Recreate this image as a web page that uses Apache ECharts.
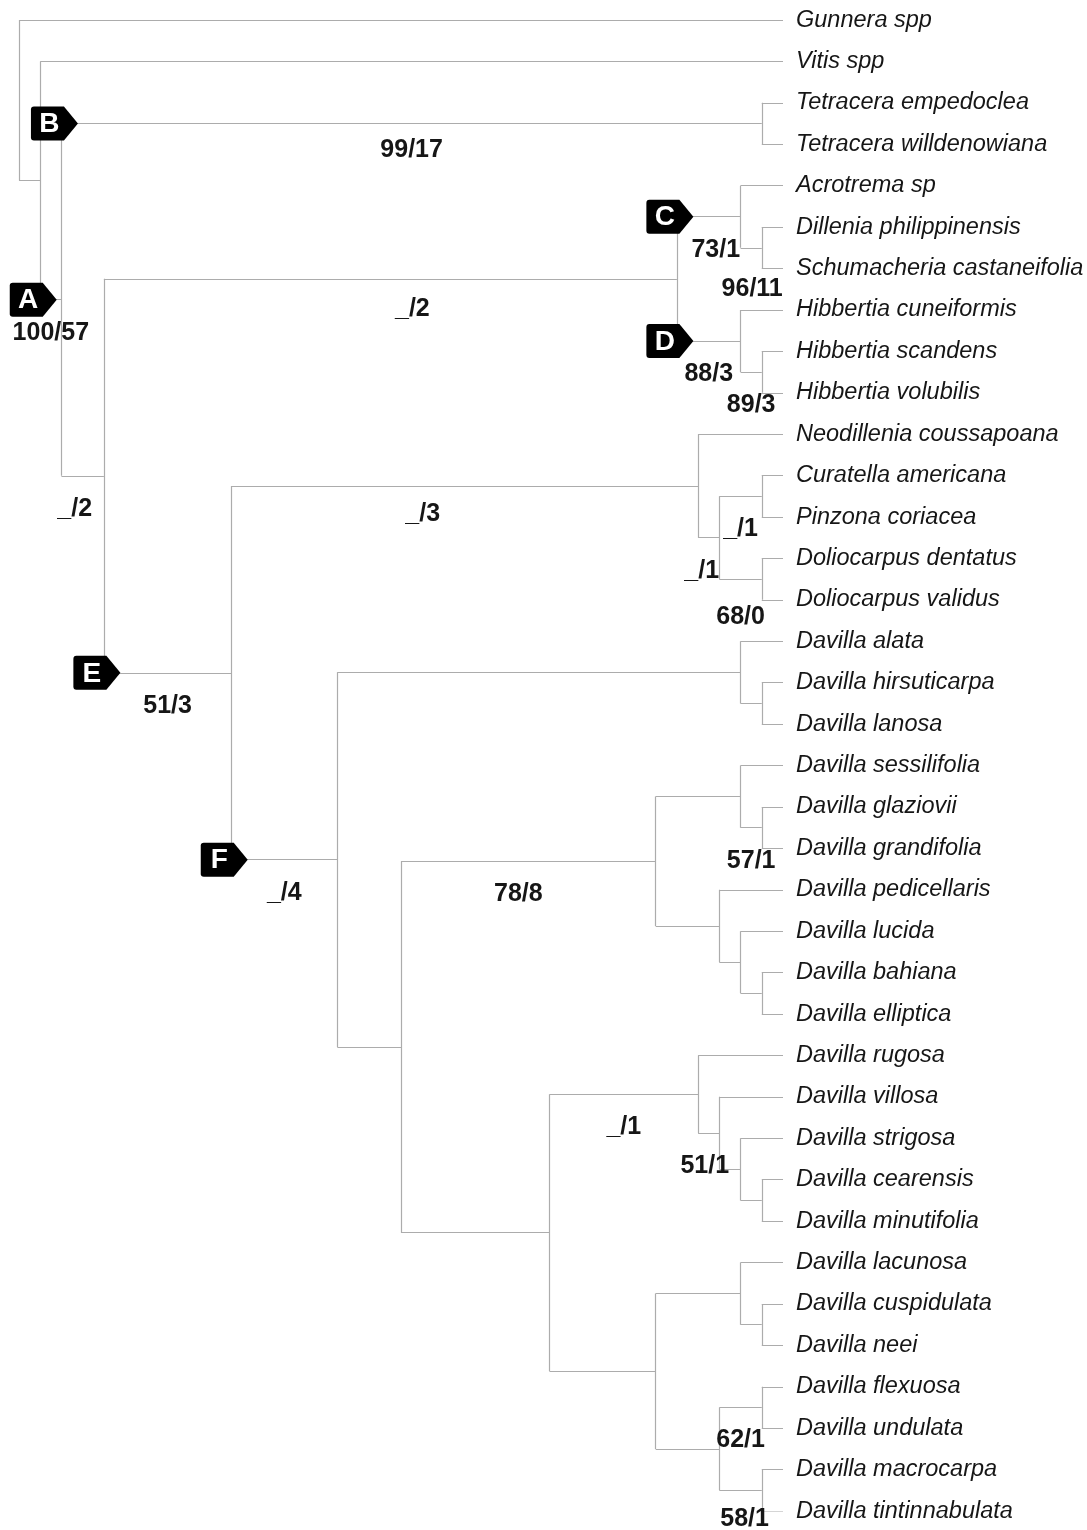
<!DOCTYPE html>
<html>
<head>
<meta charset="utf-8">
<script src="https://cdn.jsdelivr.net/npm/echarts@6/dist/echarts.min.js"></script>
<style>
  html, body { margin: 0; padding: 0; background: #ffffff; }
  #chart { width: 1087px; height: 1530px; }
</style>
</head>
<body>
<div id="chart"></div>
<script>
// Terminal taxa, top to bottom
const leafNames = [
  'Gunnera spp', 'Vitis spp', 'Tetracera empedoclea', 'Tetracera willdenowiana',
  'Acrotrema sp', 'Dillenia philippinensis', 'Schumacheria castaneifolia',
  'Hibbertia cuneiformis', 'Hibbertia scandens', 'Hibbertia volubilis',
  'Neodillenia coussapoana', 'Curatella americana', 'Pinzona coriacea',
  'Doliocarpus dentatus', 'Doliocarpus validus',
  'Davilla alata', 'Davilla hirsuticarpa', 'Davilla lanosa',
  'Davilla sessilifolia', 'Davilla glaziovii', 'Davilla grandifolia',
  'Davilla pedicellaris', 'Davilla lucida', 'Davilla bahiana', 'Davilla elliptica',
  'Davilla rugosa', 'Davilla villosa', 'Davilla strigosa', 'Davilla cearensis',
  'Davilla minutifolia', 'Davilla lacunosa', 'Davilla cuspidulata', 'Davilla neei',
  'Davilla flexuosa', 'Davilla undulata', 'Davilla macrocarpa', 'Davilla tintinnabulata'
];
// Internal node each taxon hangs from
const leafParent = [
  0, 1, 3, 3,
  6, 7, 7,
  8, 9, 9,
  11, 13, 13,
  14, 14,
  16, 17, 17,
  20, 21, 21,
  22, 23, 24, 24,
  26, 27, 28, 29,
  29, 31, 32, 32,
  34, 34, 35, 35
];
// Depth level of the tips
const tipDepth = 36;

// Internal nodes (index = node id); parent ids are always lower than child ids
const nodeParent = [
  -1, 0, 1, 2, 2, 4, 5, 6, 5, 8,
  4, 10, 11, 12, 12, 10, 15, 16, 15, 18,
  19, 20, 19, 22, 23, 18, 25, 26, 27, 28,
  25, 30, 31, 30, 33, 33
];
const nodeDepth = [
  0, 1, 2, 35, 4, 31, 34, 35, 34, 35,
  10, 32, 33, 35, 35, 15, 34, 35, 18, 30,
  34, 35, 33, 34, 35, 25, 32, 33, 34, 35,
  30, 34, 35, 33, 35, 35
];
// Bootstrap / Bremer support on the branch leading to each node
const nodeSupport = [
  '', '', '100/57', '99/17', '_/2', '_/2', '73/1', '96/11', '88/3', '89/3',
  '51/3', '_/3', '_/1', '_/1', '68/0', '_/4', '', '', '', '78/8',
  '', '57/1', '', '', '', '', '_/1', '51/1', '', '',
  '', '', '', '', '62/1', '58/1'
];
// Clade tags
const nodeTag = [
  '', '', 'A', 'B', '', '', 'C', '', 'D', '',
  'E', '', '', '', '', 'F', '', '', '', '',
  '', '', '', '', '', '', '', '', '', '',
  '', '', '', '', '', ''
];

// Pixel nudges for a few support labels (layout only)
const supportNudge = {
  3: [0, -6], 4: [-8, 0], 5: [22, -3], 6: [7, 0], 7: [1, 8], 11: [-42, -5],
  12: [-7, 0], 14: [0, 5], 19: [-10, 0], 27: [-4, 0], 35: [4, -4]
};

// ---- derive node heights and branch segments ----
const nNodes = nodeParent.length;
const kids = Array.from({ length: nNodes }, () => []);
leafNames.forEach((_, i) => kids[leafParent[i]].push({ leaf: true, id: i }));
for (let k = 1; k < nNodes; k++) kids[nodeParent[k]].push({ leaf: false, id: k });

const nodeY = new Array(nNodes);
for (let k = nNodes - 1; k >= 0; k--) {
  const ys = kids[k].map(c => (c.leaf ? c.id : nodeY[c.id]));
  nodeY[k] = (Math.min(...ys) + Math.max(...ys)) / 2;
}

const segments = [];
for (let k = 0; k < nNodes; k++) {
  const ys = kids[k].map(c => (c.leaf ? c.id : nodeY[c.id]));
  segments.push({ coords: [[nodeDepth[k], Math.min(...ys)], [nodeDepth[k], Math.max(...ys)]] });
  kids[k].forEach(c => {
    const cy = c.leaf ? c.id : nodeY[c.id];
    const cd = c.leaf ? tipDepth : nodeDepth[c.id];
    segments.push({ coords: [[nodeDepth[k], cy], [cd, cy]] });
  });
}

const supportData = [];
const tagData = [];
for (let k = 1; k < nNodes; k++) {
  const pd = nodeDepth[nodeParent[k]];
  if (nodeSupport[k]) {
    const nudge = supportNudge[k] || [0, 0];
    supportData.push({
      value: [(pd + nodeDepth[k]) / 2, nodeY[k]],
      label: { formatter: nodeSupport[k], offset: [nudge[0], 33 + nudge[1]] }
    });
  }
  if (nodeTag[k]) {
    tagData.push({ value: [pd, nodeY[k]], name: nodeTag[k] });
  }
}

const tagShape = 'path://M3,0 L33,0 L47,17 L33,34 L3,34 Q0,34 0,31 L0,3 Q0,0 3,0 Z';

const chart = echarts.init(document.getElementById('chart'), null, { renderer: 'canvas' });
chart.setOption({
  animation: false,
  backgroundColor: '#ffffff',
  grid: { left: 19, right: 304, top: 20, bottom: 19, containLabel: false },
  xAxis: { type: 'value', min: 0, max: tipDepth, show: false },
  yAxis: [
    { type: 'value', min: 0, max: leafNames.length - 1, inverse: true, show: false },
    {
      type: 'category', data: leafNames, inverse: true, boundaryGap: false,
      position: 'right',
      axisLine: { show: false }, axisTick: { show: false }, splitLine: { show: false },
      axisLabel: {
        interval: 0, margin: 13, align: 'left', padding: [4, 0, 0, 0],
        fontFamily: '"Liberation Sans", Arial, sans-serif',
        fontStyle: 'italic', fontSize: 23.5, color: '#161616'
      }
    }
  ],
  series: [
    {
      type: 'lines', coordinateSystem: 'cartesian2d', yAxisIndex: 0,
      silent: true, z: 1,
      lineStyle: { color: '#acacac', width: 1.2, opacity: 1 },
      data: segments
    },
    {
      type: 'scatter', yAxisIndex: 0, silent: true, z: 3,
      symbolSize: 1, itemStyle: { color: 'rgba(0,0,0,0)', opacity: 1 },
      label: {
        show: true, position: 'inside', opacity: 1,
        fontFamily: '"Liberation Sans", Arial, sans-serif',
        fontWeight: 'bold', fontSize: 25, color: '#161616'
      },
      data: supportData
    },
    {
      type: 'scatter', yAxisIndex: 0, silent: true, z: 4,
      symbol: tagShape, symbolSize: [47, 34], symbolOffset: [-7, 0],
      itemStyle: { color: '#000000', opacity: 1 },
      label: {
        show: true, position: 'inside', offset: [-5, 1], opacity: 1,
        formatter: '{b}',
        fontFamily: '"Liberation Sans", Arial, sans-serif',
        fontWeight: 'bold', fontSize: 28, color: '#ffffff'
      },
      data: tagData
    }
  ]
});
</script>
</body>
</html>
